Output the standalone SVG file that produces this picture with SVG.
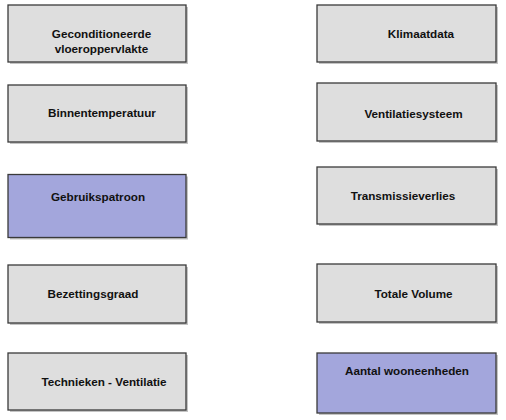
<svg xmlns="http://www.w3.org/2000/svg" width="506" height="420" viewBox="0 0 506 420">
<defs>
<style>
.box{stroke:#3a3a3a;stroke-width:1.3}
.g{fill:#dedede}
.p{fill:#a3a6dc}
.sh{fill:#c4c4c4}
.t{font-family:"Liberation Sans",Arial,sans-serif;font-weight:bold;font-size:11.7px;fill:#111;text-anchor:middle}
</style>
</defs>
<rect width="506" height="420" fill="#fff"/>
<g id="node-geconditioneerde">
<rect class="sh" x="10" y="7" width="178" height="57"/>
<rect class="box g" x="8" y="5" width="178" height="57"/>
<text class="t" x="101.5" y="38">Geconditioneerde</text>
<text class="t" x="101.5" y="53">vloeroppervlakte</text>
</g>
<g id="node-klimaatdata">
<rect class="sh" x="319" y="7" width="179" height="57"/>
<rect class="box g" x="317" y="5" width="179" height="57"/>
<text class="t" x="421" y="38">Klimaatdata</text>
</g>
<g id="node-binnentemperatuur">
<rect class="sh" x="10" y="87" width="178" height="57"/>
<rect class="box g" x="8" y="85" width="178" height="57"/>
<text class="t" x="102" y="116.5">Binnentemperatuur</text>
</g>
<g id="node-ventilatiesysteem">
<rect class="sh" x="319" y="85" width="179" height="58"/>
<rect class="box g" x="317" y="83" width="179" height="58"/>
<text class="t" x="413.5" y="117.5">Ventilatiesysteem</text>
</g>
<g id="node-gebruikspatroon">
<rect class="sh" x="10" y="176.5" width="178" height="63"/>
<rect class="box p" x="8" y="174.5" width="178" height="63"/>
<text class="t" x="98" y="200.5">Gebruikspatroon</text>
</g>
<g id="node-transmissieverlies">
<rect class="sh" x="319" y="169" width="179" height="57"/>
<rect class="box g" x="317" y="167" width="179" height="57"/>
<text class="t" x="403" y="200">Transmissieverlies</text>
</g>
<g id="node-bezettingsgraad">
<rect class="sh" x="10" y="267" width="178" height="58"/>
<rect class="box g" x="8" y="265" width="178" height="58"/>
<text class="t" x="93" y="297.5">Bezettingsgraad</text>
</g>
<g id="node-totale-volume">
<rect class="sh" x="319" y="266" width="179" height="58"/>
<rect class="box g" x="317" y="264" width="179" height="58"/>
<text class="t" x="413.5" y="297.5">Totale Volume</text>
</g>
<g id="node-technieken-ventilatie">
<rect class="sh" x="10" y="355" width="178" height="57"/>
<rect class="box g" x="8" y="353" width="178" height="57"/>
<text class="t" x="104" y="385.5">Technieken - Ventilatie</text>
</g>
<g id="node-aantal-wooneenheden">
<rect class="sh" x="319" y="355" width="179" height="60"/>
<rect class="box p" x="317" y="353" width="179" height="60"/>
<text class="t" x="407" y="374.5">Aantal wooneenheden</text>
</g>
<g id="connectors"></g>
</svg>
